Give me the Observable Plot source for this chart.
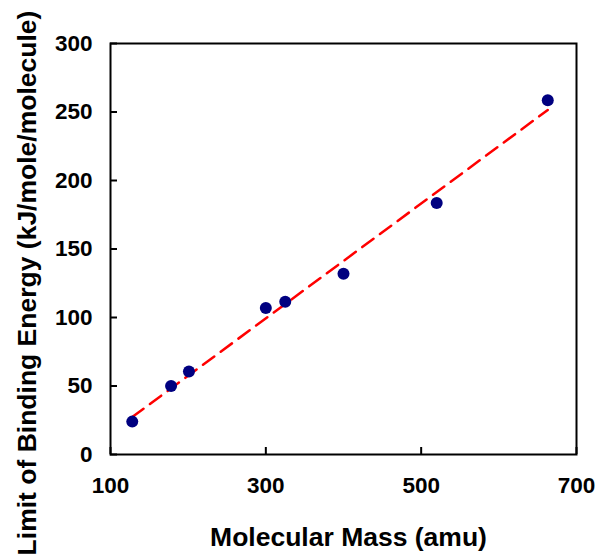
<!DOCTYPE html>
<html>
<head>
<meta charset="utf-8">
<script src="https://cdn.jsdelivr.net/npm/d3@7"></script>
<script src="https://cdn.jsdelivr.net/npm/@observablehq/plot@0.6"></script>
<style>
  html, body { margin: 0; padding: 0; background: #fff; }
</style>
</head>
<body>
<div id="chart"></div>
<script>
const mass = [128, 178, 201, 300, 325, 400, 520, 663];
const energy = [24, 50, 60.5, 107, 111.5, 132, 183.5, 258.5];
const xTicks = [100, 300, 500, 700];
const yTicks = [0, 50, 100, 150, 200, 250, 300];
const xTitle = "Molecular Mass (amu)";
const yTitle = "Limit of Binding Energy (kJ/mole/molecule)";

const data = mass.map((m, i) => ({mass: m, energy: energy[i]}));

const chart = Plot.plot({
  width: 601,
  height: 558,
  marginLeft: 110,
  marginRight: 25,
  marginTop: 43,
  marginBottom: 104,
  style: {fontFamily: "'Liberation Sans', Arial, sans-serif", fontWeight: "bold", color: "black", background: "white", overflow: "visible"},
  x: {domain: [100, 700]},
  y: {domain: [0, 300]},
  marks: [
    Plot.axisY(yTicks, {tickSize: 0, tickPadding: 18, fontSize: 22.5, label: null}),
    Plot.axisY(yTicks, {tickSize: 7, dx: 7, text: null, label: null, strokeWidth: 2}),
    Plot.axisX(xTicks, {tickSize: 0, tickPadding: 23, fontSize: 22.5, label: null}),
    Plot.axisX(xTicks, {tickSize: 7, dy: -7, text: null, label: null, strokeWidth: 2}),
    Plot.linearRegressionY(data, {x: "mass", y: "energy", ci: 0, stroke: "#ff0000", strokeWidth: 2.5, strokeDasharray: "14,8"}),
    Plot.dot(data, {x: "mass", y: "energy", r: 6, fill: "#000080", stroke: "none"}),
    Plot.frame({stroke: "black", strokeWidth: 2}),
    Plot.text([xTitle], {frameAnchor: "bottom", textAnchor: "middle", lineAnchor: "middle", dx: 5, dy: 83, fontSize: 26.5, fontWeight: "bold", fill: "black"}),
    Plot.text([yTitle], {frameAnchor: "left", textAnchor: "middle", lineAnchor: "middle", dx: -83, dy: 34, rotate: -90, fontSize: 26.5, fontWeight: "bold", fill: "black"})
  ]
});
document.getElementById("chart").appendChild(chart);
</script>
</body>
</html>
